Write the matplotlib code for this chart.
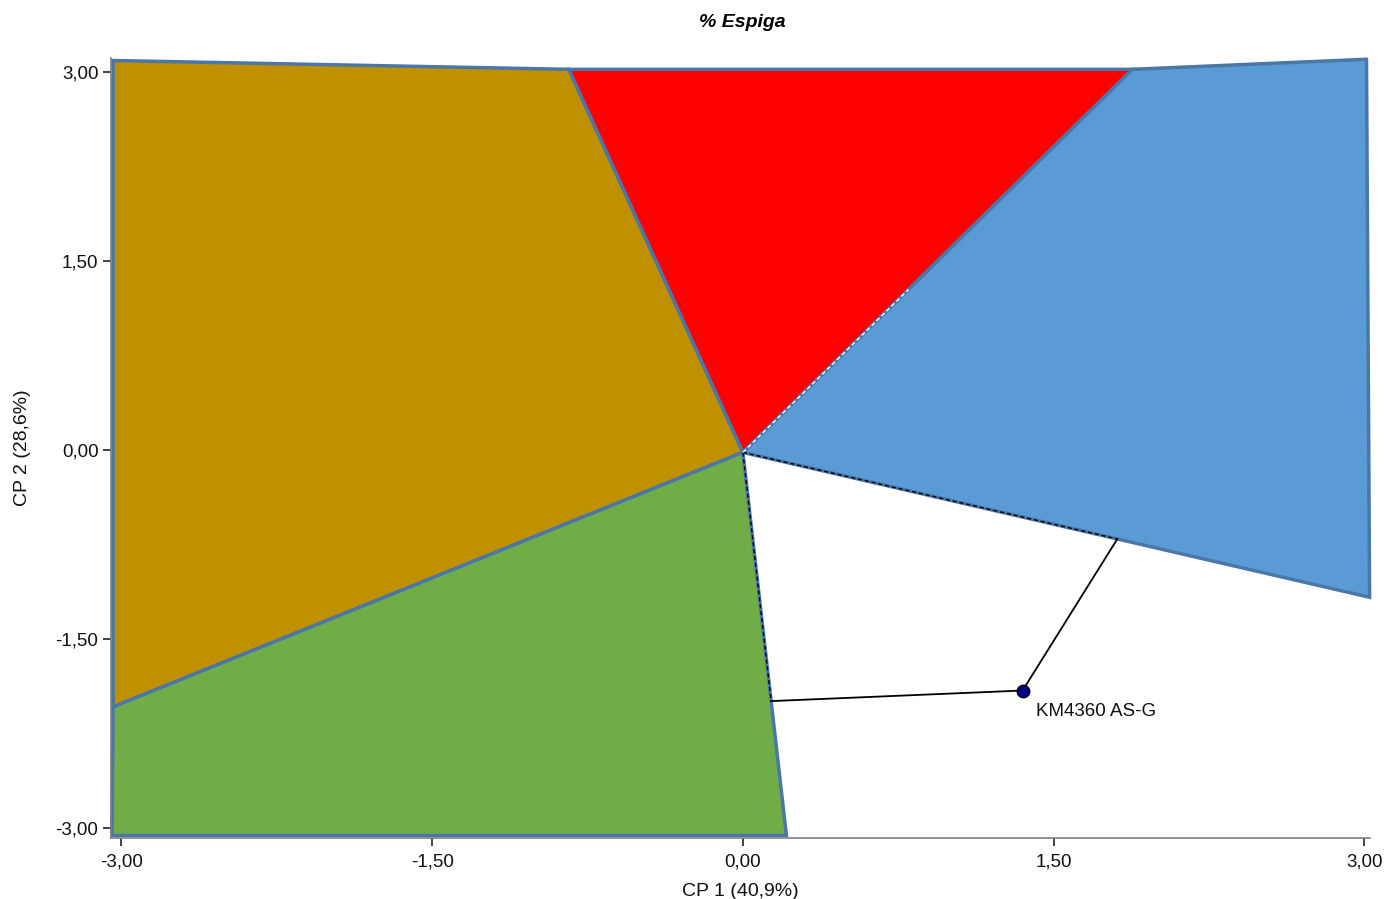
import numpy as np
import matplotlib.pyplot as plt
from matplotlib.patches import Polygon
from matplotlib.ticker import FixedLocator, FuncFormatter

plt.rcParams["font.family"] = ["Liberation Sans", "DejaVu Sans"]

# vertice do poligono (origem dos setores)
centro = (0.0, -0.02)

# setores (x, y)
olive_x = [-3.04, -0.84, 0.0, -3.04]
olive_y = [3.09, 3.02, -0.02, -2.04]
red_x = [-0.84, 1.88, 0.0]
red_y = [3.02, 3.02, -0.02]
blue_x = [1.88, 3.01, 3.025, 0.0]
blue_y = [3.02, 3.10, -1.17, -0.02]
green_x = [0.0, -3.04, -3.045, 0.21]
green_y = [-0.02, -2.04, -3.06, -3.06]

cores = ["#BF9000", "#FF0000", "#5B9BD5", "#70AD47"]

# genotipo
gen_nome = "KM4360 AS-G"
gen_x = 1.35
gen_y = -1.91

ticks = [-3.0, -1.5, 0.0, 1.5, 3.0]


def pe_perpendicular(p, a, b):
    a, b, p = np.array(a), np.array(b), np.array(p)
    d = b - a
    t = np.dot(p - a, d) / np.dot(d, d)
    return a + t * d


fig = plt.figure(figsize=(13.84, 8.99), dpi=100)
ax = fig.add_axes([0.0802, 0.0679, 0.9097, 0.8676])

setores = [(olive_x, olive_y), (red_x, red_y), (blue_x, blue_y), (green_x, green_y)]
for (xs, ys), cor in zip(setores, cores):
    ax.add_patch(Polygon(np.column_stack([xs, ys]), closed=True, facecolor=cor,
                         edgecolor="#4A76A8", linewidth=2.5, zorder=2, clip_on=False))

# raios tracejados ate os pes das perpendiculares
fim_verde = (green_x[3], green_y[3])
fim_azul = (blue_x[2], blue_y[2])
pe_verde = pe_perpendicular((gen_x, gen_y), centro, fim_verde)
pe_azul = pe_perpendicular((gen_x, gen_y), centro, fim_azul)

ax.plot([centro[0], pe_verde[0]], [centro[1], pe_verde[1]], color="black",
        linestyle=(0, (3, 2)), linewidth=1.0, zorder=3)
ax.plot([centro[0], pe_azul[0]], [centro[1], pe_azul[1]], color="black",
        linestyle=(0, (3, 2)), linewidth=1.0, zorder=3)
ax.plot([centro[0], 0.8], [centro[1], 0.8 * (red_y[1] - centro[1]) / red_x[1] + centro[1]],
        color="white", linestyle=(0, (3, 2)), linewidth=1.0, zorder=3)

# perpendiculares
ax.plot([gen_x, pe_verde[0]], [gen_y, pe_verde[1]], color="black", linewidth=1.3, zorder=4)
ax.plot([gen_x, pe_azul[0]], [gen_y, pe_azul[1]], color="black", linewidth=1.3, zorder=4)

ax.plot([gen_x], [gen_y], marker="o", markersize=9, markerfacecolor="#00008B",
        markeredgecolor="black", markeredgewidth=1.0, linestyle="none", zorder=5)
ax.annotate(gen_nome, (gen_x, gen_y), xytext=(10, -15), textcoords="offset points",
            ha="left", va="center", fontsize=13.5, color="#111111", zorder=6)

ax.set_xlim(-3.05, 3.027)
ax.set_ylim(-3.08, 3.11)

fmt = FuncFormatter(lambda v, pos: f"{v:.2f}".replace(".", ","))
ax.xaxis.set_major_locator(FixedLocator(ticks))
ax.yaxis.set_major_locator(FixedLocator(ticks))
ax.xaxis.set_major_formatter(fmt)
ax.yaxis.set_major_formatter(fmt)
ax.tick_params(axis="both", direction="out", length=6, width=1.2, color="#222222",
               labelsize=13.5, labelcolor="#111111")
ax.tick_params(axis="x", pad=5)
ax.tick_params(axis="y", pad=3)

for s in ["top", "right"]:
    ax.spines[s].set_visible(False)
for s in ["bottom", "left"]:
    ax.spines[s].set_color("#7F7F7F")
    ax.spines[s].set_linewidth(1.2)

ax.set_xlabel("CP 1 (40,9%)", fontsize=14, color="#111111", labelpad=9)
ax.set_ylabel("CP 2 (28,6%)", fontsize=14, color="#111111", labelpad=18)
fig.text(0.536, 0.975, "% Espiga", ha="center", va="center", fontsize=14,
         fontweight="bold", fontstyle="italic")

fig.savefig("out.png", dpi=100)
